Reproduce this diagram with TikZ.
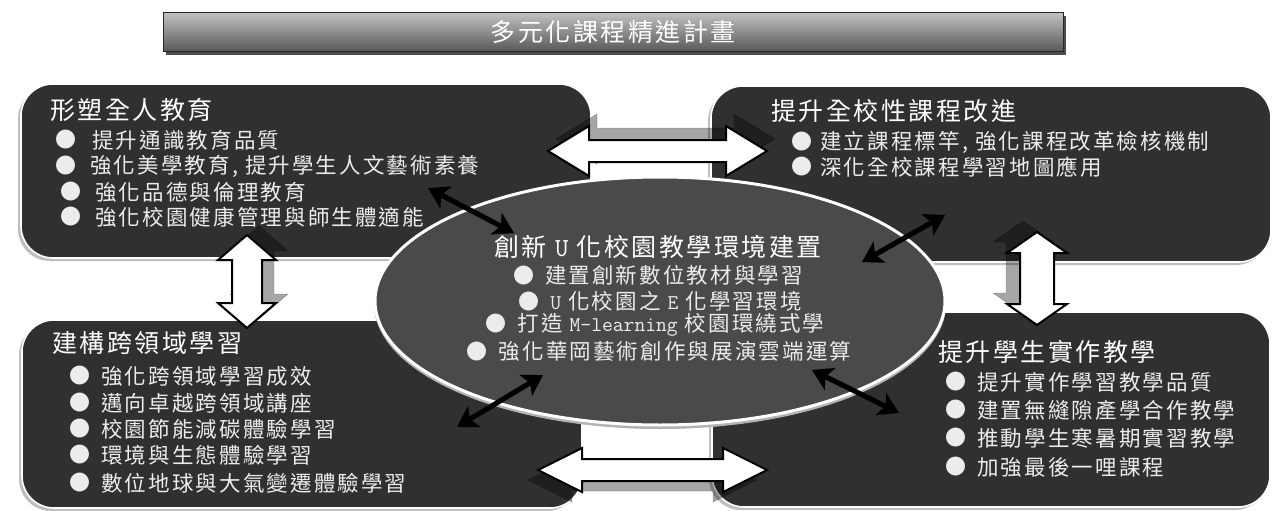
\documentclass[tikz,border=0pt]{standalone}
\usepackage{fontspec}
\newfontfamily\cjk{Noto Sans CJK TC}[LetterSpace=10]
\newfontfamily\cjkplain{Noto Sans CJK TC}
\usetikzlibrary{arrows.meta,shapes.geometric}
\definecolor{boxfill}{RGB}{48,48,48}
\definecolor{ellfill}{RGB}{74,74,74}
\definecolor{txt}{RGB}{236,236,236}
\definecolor{bartop}{RGB}{192,192,192}
\definecolor{barbot}{RGB}{86,86,86}
% horizontal double block arrow: style, x-left-tip, x-right-tip, cy, head length, head half, shaft half
\newcommand\hdblarrow[7]{%
  \draw[#1] (#2,#4) -- ({#2+#5},{#4-#6}) -- ({#2+#5},{#4-#7}) -- ({#3-#5},{#4-#7}) -- ({#3-#5},{#4-#6}) -- (#3,#4)
    -- ({#3-#5},{#4+#6}) -- ({#3-#5},{#4+#7}) -- ({#2+#5},{#4+#7}) -- ({#2+#5},{#4+#6}) -- cycle;}
% vertical double block arrow: style, y-top-tip, y-bottom-tip, cx, head length, head half, shaft half
\newcommand\vdblarrow[7]{%
  \draw[#1] (#4,#2) -- ({#4+#6},{#2+#5}) -- ({#4+#7},{#2+#5}) -- ({#4+#7},{#3-#5}) -- ({#4+#6},{#3-#5}) -- (#4,#3)
    -- ({#4-#6},{#3-#5}) -- ({#4-#7},{#3-#5}) -- ({#4-#7},{#2+#5}) -- ({#4-#6},{#2+#5}) -- cycle;}
% bullet item: name, bullet centre x, text x, y, text
\newcommand\bitem[5]{%
  \node[bul] (#1b) at (#2,#4) {●};
  \node[itm] (#1) at (#3,#4) {#5};}
\newcommand\ebul{{\cjkplain\fontsize{21}{21}\selectfont ●}\hspace{11pt}}
\newcommand\lat[1]{{\ttfamily\fontsize{21}{21}\selectfont #1}}
\begin{document}
\begin{tikzpicture}[x=1pt,y=-1pt,
  box/.style={draw=white, line width=1.6pt, fill=boxfill, rounded corners=32pt, inner sep=0},
  boxshadow/.style={fill=black!25, rounded corners=32pt, inner sep=0},
  ttl/.style={anchor=west, text=white, font=\cjk\fontsize{25}{25}\selectfont, inner sep=0},
  itm/.style={anchor=west, text=txt, font=\cjk\fontsize{21.5}{21.5}\selectfont, inner sep=0},
  bul/.style={text=txt, font=\cjkplain\fontsize{21}{21}\selectfont, inner sep=0, anchor=center},
  ettl/.style={text=white, font=\cjk\fontsize{25}{25}\selectfont, inner sep=0},
  eitm/.style={text=txt, font=\cjk\fontsize{21.5}{21.5}\selectfont, inner sep=0},
  blockarrow/.style={draw=black, line width=2pt, fill=white, line join=miter},
  blockshadow/.style={fill=black, opacity=0.35},
  link/.style={{Stealth[length=20pt,width=24pt,inset=5pt]}-{Stealth[length=20pt,width=24pt,inset=5pt]}, line width=5pt, draw=black},
  linkshadow/.style={{Stealth[length=20pt,width=24pt,inset=5pt]}-{Stealth[length=20pt,width=24pt,inset=5pt]}, line width=5pt, draw=black, opacity=0.3}]
\useasboundingbox (0,0) rectangle (1288,511);
\fill[white] (0,0) rectangle (1288,511);

% title bar
\fill[black!70] (166,16) rectangle (1066,55);
\node[draw=black!85, line width=1pt, top color=bartop, bottom color=barbot,
      minimum width=900pt, minimum height=39pt, inner sep=0, text=white,
      font=\cjk\fontsize{25}{25}\selectfont] (bar) at (613,32.5) {多元化課程精進計畫};

% box shadows
\node[boxshadow, minimum width=570pt, minimum height=174pt] at (303,174) {};
\node[boxshadow, minimum width=560pt, minimum height=176pt] at (988,177) {};
\node[boxshadow, minimum width=560pt, minimum height=188pt] at (299,417) {};
\node[boxshadow, minimum width=558pt, minimum height=195pt] at (988,412.5) {};
% boxes
\node[box, minimum width=570pt, minimum height=174pt] (tl) at (306,171) {};
\node[box, minimum width=560pt, minimum height=176pt] (tr) at (991,174) {};
\node[box, minimum width=560pt, minimum height=188pt] (bl) at (302,414) {};
\node[box, minimum width=558pt, minimum height=195pt] (br) at (991,409.5) {};

% block arrow shadows
\begin{scope}[shift={(8,-12)}]\hdblarrow{blockshadow}{548}{767}{151}{41}{25}{11}\end{scope}
\begin{scope}[shift={(-10,10)}]\hdblarrow{blockshadow}{538}{767}{470}{44}{22}{11}\end{scope}
\begin{scope}[shift={(12,-9)}]\vdblarrow{blockshadow}{235}{328}{247}{25}{29}{15}\end{scope}
\begin{scope}[shift={(-14,-11)}]\vdblarrow{blockshadow}{232}{325}{1037}{21}{30}{17}\end{scope}
% block arrows
\hdblarrow{blockarrow}{548}{767}{151}{41}{25}{11}
\hdblarrow{blockarrow}{538}{767}{470}{44}{22}{11}
\vdblarrow{blockarrow}{235}{328}{247}{25}{29}{15}
\vdblarrow{blockarrow}{232}{325}{1037}{21}{30}{17}

% ellipse
\node[ellipse, fill=black!30, minimum width=572pt, minimum height=250pt, inner sep=0] at (660,304) {};
\node[ellipse, draw=white, line width=3pt, fill=ellfill, minimum width=570pt, minimum height=248pt, inner sep=0] (ell) at (660,301) {};

% texts top-left
\node[ttl] (tlt) at (50,110) {形塑全人教育};
\bitem{tla}{65.5}{92}{140}{提升通識教育品質}
\bitem{tlb}{65.5}{90}{166}{強化美學教育, 提升學生人文藝術素養}
\bitem{tlc}{70.5}{95}{192}{強化品德與倫理教育}
\bitem{tld}{70.5}{95}{217}{強化校園健康管理與師生體適能}
% top-right
\node[ttl] (trt) at (771,111) {提升全校性課程改進};
\bitem{tra}{801.5}{820}{142}{建立課程標竿, 強化課程改革檢核機制}
\bitem{trb}{801.5}{820}{167}{深化全校課程學習地圖應用}
% bottom-left
\node[ttl] (blt) at (52,343) {建構跨領域學習};
\bitem{bla}{79.5}{101}{376}{強化跨領域學習成效}
\bitem{blb}{79.5}{101}{403}{邁向卓越跨領域講座}
\bitem{blc}{79.5}{101}{429}{校園節能減碳體驗學習}
\bitem{bld}{79.5}{101}{455}{環境與生態體驗學習}
\bitem{ble}{79.5}{101}{483}{數位地球與大氣變遷體驗學習}
% bottom-right
\node[ttl] (brt) at (938,352) {提升學生實作教學};
\bitem{bra}{955.5}{977}{382}{提升實作學習教學品質}
\bitem{brb}{955.5}{977}{410}{建置無縫隙產學合作教學}
\bitem{brc}{955.5}{977}{438}{推動學生寒暑期實習教學}
\bitem{brd}{955.5}{977}{467}{加強最後一哩課程}
% ellipse texts
\node[ettl] (et) at (658,247) {創新 {\ttfamily\fontsize{26}{26}\selectfont U} 化校園教學環境建置};
\node[eitm] (ea) at (658,275) {\ebul 建置創新數位教材與學習};
\node[eitm] (eb) at (660,301) {\ebul\lat{U} 化校園之 \lat{E} 化學習環境};
\node[eitm] (ec) at (655,325) {\ebul 打造 \lat{M-learning} 校園環繞式學};
\node[eitm] (ed) at (659,351) {\ebul 強化華岡藝術創作與展演雲端運算};

% diagonal links
\coordinate (a1) at (428,188); \coordinate (a2) at (514,233);
\coordinate (b1) at (862,262); \coordinate (b2) at (945,215);
\coordinate (c1) at (457,427); \coordinate (c2) at (543,375);
\coordinate (d1) at (812,370); \coordinate (d2) at (899,413);
\begin{scope}[shift={(3,3)}]
\draw[linkshadow] (a1) -- (a2);
\draw[linkshadow] (b1) -- (b2);
\draw[linkshadow] (c1) -- (c2);
\draw[linkshadow] (d1) -- (d2);
\end{scope}
\draw[link] (a1) -- (a2);
\draw[link] (b1) -- (b2);
\draw[link] (c1) -- (c2);
\draw[link] (d1) -- (d2);
\end{tikzpicture}
\end{document}
